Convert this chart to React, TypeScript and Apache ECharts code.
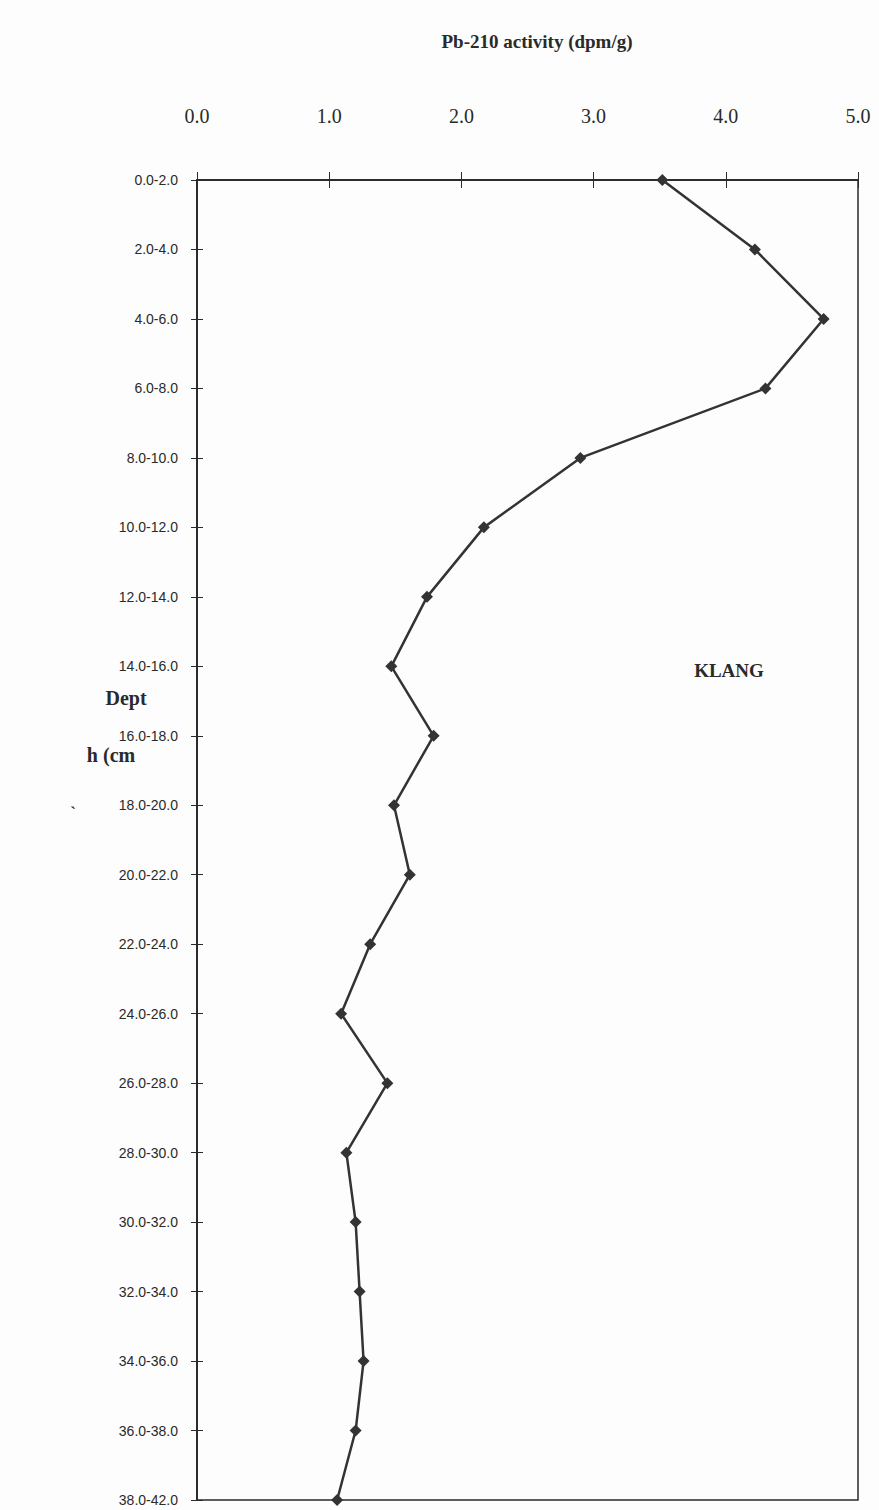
import React, { useEffect, useRef } from "react";
import * as echarts from "echarts";

const depthCategories = [
  "0.0-2.0", "2.0-4.0", "4.0-6.0", "6.0-8.0", "8.0-10.0", "10.0-12.0",
  "12.0-14.0", "14.0-16.0", "16.0-18.0", "18.0-20.0", "20.0-22.0", "22.0-24.0",
  "24.0-26.0", "26.0-28.0", "28.0-30.0", "30.0-32.0", "32.0-34.0", "34.0-36.0",
  "36.0-38.0", "38.0-42.0",
];

const pb210Activity = [
  3.52, 4.22, 4.74, 4.3, 2.9, 2.17, 1.74, 1.47, 1.79, 1.49, 1.61, 1.31,
  1.09, 1.44, 1.13, 1.2, 1.23, 1.26, 1.2, 1.06,
];

const xMin = 0;
const xMax = 5;
const xInterval = 1;

const titleText = "Pb-210 activity (dpm/g)";
const siteLabel = "KLANG";

export default function App() {
  const ref = useRef<HTMLDivElement>(null);
  useEffect(() => {
    if (!ref.current) return;
    const chart = echarts.init(ref.current, null, { renderer: "svg" });
    const serif = "'Liberation Serif', 'Times New Roman', serif";
    const ink = "#2a2a2a";
    const xBase = {
      type: "value" as const,
      min: xMin,
      max: xMax,
      interval: xInterval,
      position: "top" as const,
      splitLine: { show: false },
      axisLine: { show: true, lineStyle: { color: ink, width: 1.5 } },
    };
    const yBase = {
      type: "category" as const,
      data: depthCategories,
      inverse: true,
      boundaryGap: false,
      position: "left" as const,
      splitLine: { show: false },
      axisLine: { show: true, lineStyle: { color: ink, width: 1.5 } },
    };
    chart.setOption({
      animation: false,
      backgroundColor: "#fdfdfd",
      title: {
        text: titleText,
        left: 532,
        top: 27,
        textAlign: "center",
        textStyle: { fontFamily: serif, fontSize: 19, fontWeight: "bold", color: ink },
      },
      grid: {
        left: 197,
        right: 21,
        top: 180,
        bottom: 10,
        show: true,
        borderColor: ink,
        borderWidth: 1.5,
        backgroundColor: "transparent",
      },
      xAxis: [
        {
          ...xBase,
          axisTick: { show: true, inside: false, length: 8, lineStyle: { color: ink, width: 1 } },
          axisLabel: {
            margin: 54,
            fontFamily: serif,
            fontSize: 20,
            color: ink,
            formatter: (v: number) => v.toFixed(1),
          },
        },
        {
          ...xBase,
          axisTick: { show: true, inside: true, length: 8, lineStyle: { color: ink, width: 1 } },
          axisLabel: { show: false },
        },
      ],
      yAxis: [
        {
          ...yBase,
          axisTick: { show: true, inside: false, length: 6, lineStyle: { color: ink, width: 1 } },
          axisLabel: {
            margin: 19,
            fontFamily: "'Liberation Sans', Arial, sans-serif",
            fontSize: 14,
            color: ink,
          },
        },
        {
          ...yBase,
          axisTick: { show: true, inside: true, length: 6, lineStyle: { color: ink, width: 1 } },
          axisLabel: { show: false },
        },
      ],
      graphic: [
        {
          type: "text",
          x: 126,
          y: 698,
          style: { text: "Dept", font: `bold 20px ${serif}`, fill: ink, align: "center", verticalAlign: "middle" },
        },
        {
          type: "text",
          x: 111,
          y: 755,
          style: { text: "h (cm", font: `bold 20px ${serif}`, fill: ink, align: "center", verticalAlign: "middle" },
        },
        {
          type: "text",
          x: 73,
          y: 812,
          style: { text: "`", font: `bold 17px ${serif}`, fill: ink, align: "center", verticalAlign: "middle" },
        },
        {
          type: "text",
          x: 729,
          y: 670,
          style: { text: siteLabel, font: `bold 19px ${serif}`, fill: ink, align: "center", verticalAlign: "middle" },
        },
      ],
      series: [
        {
          type: "line",
          xAxisIndex: 0,
          yAxisIndex: 0,
          data: pb210Activity.map((v, i) => [v, depthCategories[i]]),
          symbol: "diamond",
          symbolSize: 12,
          itemStyle: { color: "#333" },
          lineStyle: { color: "#333", width: 2.5 },
          clip: false,
        },
      ],
    });
    return () => chart.dispose();
  }, []);
  return (
    <div
      ref={ref}
      style={{ position: "absolute", left: 0, top: 0, width: 879, height: 1510 }}
    />
  );
}
